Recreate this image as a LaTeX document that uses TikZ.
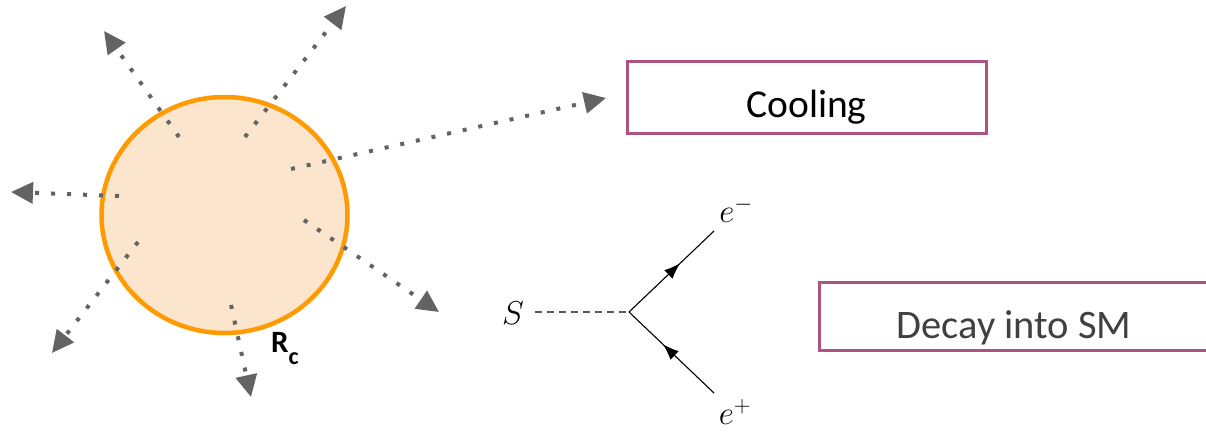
\RequirePackage{fix-cm}
\documentclass[tikz,border=0pt]{standalone}
\usepackage{fontspec}
\setmainfont{Carlito}
\usetikzlibrary{arrows.meta,shapes.geometric,decorations.markings}
\definecolor{sunorange}{HTML}{FF9A00}
\definecolor{sunfill}{HTML}{FBE5CD}
\definecolor{raygray}{HTML}{636363}
\definecolor{boxborder}{HTML}{AE537F}
\definecolor{txtgray}{HTML}{404040}
\tikzset{
  ray/.style={raygray, line width=4pt, dash pattern=on 4pt off 12pt,
    -{Triangle[length=22pt,width=21pt]}},
  labelbox/.style={draw=boxborder, line width=3pt, rectangle, inner sep=0pt},
  fermion/.style={black, line width=1.1pt},
  scalar/.style={gray!70!black, line width=1.1pt, dash pattern=on 7pt off 5pt},
  mathlabel/.style={font=\fontsize{33}{33}\selectfont, inner sep=0pt},
}
\begin{document}
\begin{tikzpicture}[x=1pt,y=-1pt]
\useasboundingbox (0,0) rectangle (1206,431);
% core
\node[draw=sunorange, fill=sunfill, line width=4.5pt, ellipse, minimum width=246pt, minimum height=236pt, inner sep=0pt] (core) at (224.5,215) {};
% ray end points
\coordinate (s1) at (179,137); \coordinate (t1) at (104,31);
\coordinate (s2) at (245,137); \coordinate (t2) at (346,6);
\coordinate (s3) at (291,169); \coordinate (t3) at (606,98);
\coordinate (s4) at (119,196); \coordinate (t4) at (11,192);
\coordinate (s5) at (138,242); \coordinate (t5) at (52,353);
\coordinate (s6) at (304,220); \coordinate (t6) at (439,312);
\coordinate (s7) at (231,305); \coordinate (t7) at (251,397);
\foreach \i in {1,...,7} {\draw[ray] (s\i) -- (t\i);}
\node[font=\fontsize{31}{31}\selectfont\bfseries, anchor=base west, inner sep=0pt] (rc) at (271,352) {R\raisebox{-12pt}{\fontsize{24}{24}\selectfont c}};
% boxes
\node[labelbox, minimum width=359pt, minimum height=72pt] (cool) at (806.5,97) {\smash{\raisebox{-20pt}{\fontsize{39.5}{39.5}\selectfont Cooling}}};
\node[labelbox, minimum width=390pt, minimum height=68pt, text=txtgray] (decay) at (1014,316) {\smash{\raisebox{-22pt}{\fontsize{40.5}{40.5}\selectfont Decay into SM}}};
% Feynman diagram
\node[mathlabel] (S) at (513,313) {$S$};
\coordinate (v) at (629,312);
\coordinate (em) at (714,231);
\coordinate (ep) at (714,393);
\node[mathlabel] (eml) at (736,210) {$e^-$};
\node[mathlabel] (epl) at (735,412) {$e^+$};
\coordinate (sd) at (535,312);
\draw[scalar] (sd) -- (v);
\draw[fermion, decoration={markings, mark=at position 0.6 with {\arrow{Latex[length=16pt,width=12pt]}}}, postaction={decorate}] (v) -- (em);
\draw[fermion, decoration={markings, mark=at position 0.6 with {\arrow{Latex[length=16pt,width=12pt]}}}, postaction={decorate}] (ep) -- (v);
\end{tikzpicture}
\end{document}
